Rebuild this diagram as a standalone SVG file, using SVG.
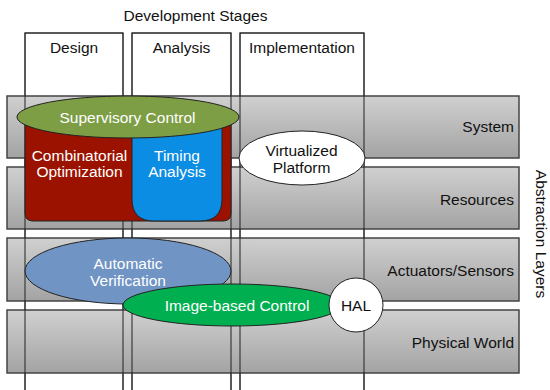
<svg xmlns="http://www.w3.org/2000/svg" width="550" height="390" viewBox="0 0 550 390">
<defs>
<linearGradient id="lg" x1="0" y1="0" x2="0" y2="1">
<stop offset="0" stop-color="#d0d0d0"/>
<stop offset="1" stop-color="#a3a3a3"/>
</linearGradient>
<style>
text{font-family:"Liberation Sans",Arial,sans-serif;font-size:15.5px;fill:#111;}
.w{fill:#fff;}
.c{text-anchor:middle;}
.r{text-anchor:end;}
.col{fill:#fff;stroke:#222;stroke-width:1;}
.colline{fill:none;stroke:#222;stroke-width:1;}
.layer{fill:url(#lg);stroke:#444;stroke-width:1.5;}
.sh{stroke:#222;stroke-width:1;}
</style>
</defs>
<rect width="550" height="390" fill="#fff"/>
<text id="title" class="c" x="195.5" y="21">Development Stages</text>
<g id="columns">
<rect id="col-design" class="col" x="25" y="33" width="98" height="370"/>
<rect id="col-analysis" class="col" x="132" y="33" width="99" height="370"/>
<rect id="col-impl" class="col" x="240" y="33" width="124" height="370"/>
<text class="c" x="74" y="53">Design</text>
<text class="c" x="181.5" y="53">Analysis</text>
<text class="c" x="302" y="53">Implementation</text>
</g>
<g id="layers">
<g id="layer-system"><rect class="layer" x="7" y="96" width="512" height="62"/><text class="r" x="514" y="132">System</text></g>
<g id="layer-resources"><rect class="layer" x="7" y="167" width="512" height="62"/><text class="r" x="514" y="205">Resources</text></g>
<g id="layer-actuators"><rect class="layer" x="7" y="238" width="512" height="63"/><text class="r" x="514" y="276">Actuators/Sensors</text></g>
<g id="layer-physical"><rect class="layer" x="7" y="310" width="512" height="63"/><text class="r" x="514" y="348">Physical World</text></g>
</g>
<g id="column-lines">
<rect class="colline" x="25" y="33" width="98" height="370"/>
<rect class="colline" x="132" y="33" width="99" height="370"/>
<rect class="colline" x="240" y="33" width="124" height="370"/>
</g>
<text id="axis-label" class="c" transform="translate(536,234) rotate(90)" x="0" y="0">Abstraction Layers</text>
<g id="connectors"></g>
<g id="combinatorial">
<path class="sh" fill="#9b1300" d="M25,117 H231 V213 Q231,221 223,221 H33 Q25,221 25,213 Z"/>
<text class="c w" x="79.5" y="161">Combinatorial</text>
<text class="c w" x="79.5" y="177">Optimization</text>
</g>
<g id="timing">
<path class="sh" fill="#0b8de3" d="M132,117 H222 V199 Q222,221 200,221 H154 Q132,221 132,199 Z"/>
<text class="c w" x="177" y="161">Timing</text>
<text class="c w" x="177" y="177">Analysis</text>
</g>
<g id="supervisory">
<ellipse class="sh" fill="#7d9e45" cx="128" cy="117" rx="111" ry="21"/>
<text class="c w" x="127.5" y="123">Supervisory Control</text>
</g>
<g id="virtualized">
<ellipse class="sh" fill="#fff" cx="302" cy="158" rx="63" ry="27"/>
<text class="c" x="301.5" y="156">Virtualized</text>
<text class="c" x="301.5" y="173">Platform</text>
</g>
<g id="verification">
<ellipse class="sh" fill="#7094c4" cx="128" cy="271" rx="103" ry="33"/>
<text class="c w" x="128" y="269">Automatic</text>
<text class="c w" x="128" y="286">Verification</text>
</g>
<g id="imagecontrol">
<ellipse class="sh" fill="#00b050" cx="232" cy="305" rx="109" ry="21"/>
<text class="c w" x="237" y="311">Image-based Control</text>
</g>
<g id="hal">
<circle class="sh" fill="#fff" cx="356" cy="305" r="27"/>
<text class="c" x="356" y="311">HAL</text>
</g>
</svg>
